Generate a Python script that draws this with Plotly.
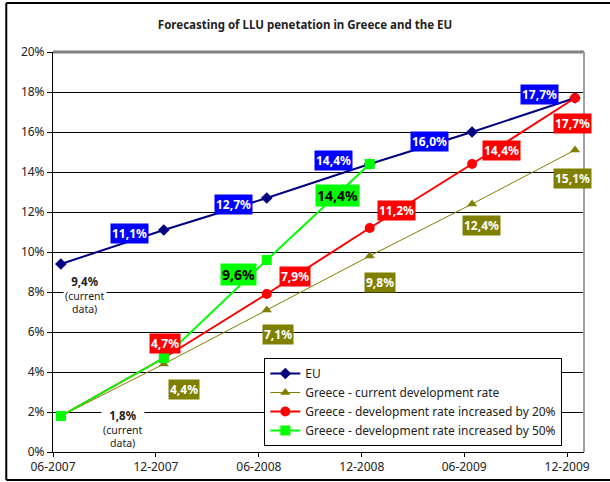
import plotly.graph_objects as go

dates = ["2007-06-15", "2007-12-15", "2008-06-15", "2008-12-15", "2009-06-15", "2009-12-15"]
tick_dates = ["2007-06-01", "2007-12-01", "2008-06-01", "2008-12-01", "2009-06-01", "2009-12-01"]
tick_labels = ["06-2007", "12-2007", "06-2008", "12-2008", "06-2009", "12-2009"]
y_ticks = [0, 2, 4, 6, 8, 10, 12, 14, 16, 18, 20]

eu = [9.4, 11.1, 12.7, 14.4, 16.0, 17.7]
greece_current = [1.8, 4.4, 7.1, 9.8, 12.4, 15.1]
greece_20 = [1.8, 4.7, 7.9, 11.2, 14.4, 17.7]
greece_50 = [1.8, 4.7, 9.6, 14.4]

FONT = "Noto Sans, Tahoma, DejaVu Sans, sans-serif"


def pct(v):
    return "{:.1f}%".format(v).replace(".", ",")


fig = go.Figure()

fig.add_trace(go.Scatter(
    x=dates, y=eu, name="EU", mode="lines+markers",
    line=dict(color="#000080", width=2),
    marker=dict(symbol="diamond", size=9, color="#000080")
))
fig.add_trace(go.Scatter(
    x=dates, y=greece_current, name="Greece - current development rate", mode="lines+markers",
    line=dict(color="#808000", width=1),
    marker=dict(symbol="triangle-up", size=9, color="#808000")
))
fig.add_trace(go.Scatter(
    x=dates, y=greece_20, name="Greece - development rate increased by 20%", mode="lines+markers",
    line=dict(color="#FF0000", width=2),
    marker=dict(symbol="circle", size=10, color="#FF0000")
))
fig.add_trace(go.Scatter(
    x=dates[:len(greece_50)], y=greece_50, name="Greece - development rate increased by 50%",
    mode="lines+markers",
    line=dict(color="#00FF00", width=2),
    marker=dict(symbol="square", size=10, color="#00FF00")
))

# label offsets in pixels (dx, dy) relative to the point, per series
eu_offsets = [None, (-34, 3), (-33, 6), (-36, -4), (-43, 9), (-36, -4)]
cur_offsets = [None, (20, 25), (11, 24), (10, 26), (9, 21), (-3, 28)]
r20_offsets = [None, (1, -15), (28, -18), (27, -18), (29, -14), (-3, 25)]
r50_offsets = [None, None, (-28, 14), (-32, 31)]

label_sets = [
    (eu, eu_offsets, "#0000FF", "white", 12),
    (greece_current, cur_offsets, "#808000", "white", 12),
    (greece_20, r20_offsets, "#FF0000", "white", 12),
    (greece_50, r50_offsets, "#00FF00", "black", 14),
]

for values, offsets, bg, fg, size in label_sets:
    for d, v, off in zip(dates, values, offsets):
        if off is None:
            continue
        fig.add_annotation(
            x=d, y=v, xref="x", yref="y",
            text="<b>" + pct(v) + "</b>",
            showarrow=False, xshift=off[0], yshift=-off[1],
            bgcolor=bg, borderpad=1,
            font=dict(family=FONT, size=size, color=fg)
        )

# current data notes
note = "<b><span style='font-size:11.5px'>{}</span></b><br>(current<br>data)"
fig.add_annotation(
    x=dates[0], y=eu[0], xref="x", yref="y",
    text=note.format(pct(eu[0])),
    showarrow=False, xshift=24, yshift=-31, bgcolor="white",
    font=dict(family=FONT, size=10.5, color="#222222")
)
fig.add_annotation(
    x=dates[0], y=greece_current[0], xref="x", yref="y",
    text=note.format(pct(greece_current[0])),
    showarrow=False, xshift=62, yshift=-13, bgcolor="white",
    font=dict(family=FONT, size=10.5, color="#222222")
)

# outer frame (left, top, bottom edges; right edge lies outside the picture)
frame = dict(xref="paper", yref="paper", type="line", line=dict(color="black", width=2), layer="below")
fx0, fx1, fy0, fy1 = -0.088, 1.1, -0.07, 1.1225

fig.update_layout(
    width=610, height=482,
    margin=dict(l=53, r=26, t=52, b=30),
    paper_bgcolor="white", plot_bgcolor="white",
    font=dict(family=FONT, size=12, color="#222222"),
    title=dict(
        text="<b>Forecasting of LLU penetation in Greece and the EU</b>",
        x=0.5, xanchor="center", y=0.948, yanchor="middle",
        font=dict(family=FONT, size=11.5, color="#222222")
    ),
    showlegend=True,
    legend=dict(
        x=0.398, y=0.125, xanchor="left", yanchor="middle",
        bgcolor="white", bordercolor="black", borderwidth=1,
        font=dict(family=FONT, size=12, color="#222222"),
        tracegroupgap=0, itemwidth=30
    ),
    xaxis=dict(
        type="date", range=["2007-06-01", "2009-12-31"],
        tickvals=tick_dates, ticktext=tick_labels,
        showgrid=False, zeroline=False,
        showline=True, linecolor="black", linewidth=1,
        ticks="outside", ticklen=4, tickcolor="black", automargin=False
    ),
    yaxis=dict(
        range=[0, 20], tickvals=y_ticks, ticktext=[str(t) + "%" for t in y_ticks],
        showgrid=True, gridcolor="black", gridwidth=1,
        zeroline=False, showline=True, linecolor="black", linewidth=1,
        ticks="outside", ticklen=5, tickcolor="black", automargin=False
    ),
    shapes=[
        dict(type="line", xref="paper", yref="paper", x0=0, x1=1, y0=1, y1=1,
             line=dict(color="#808080", width=3)),
        dict(type="line", xref="paper", yref="paper", x0=1, x1=1, y0=0, y1=1,
             line=dict(color="#A0A0A0", width=2)),
        dict(frame, x0=fx0, x1=fx0, y0=fy0, y1=fy1),
        dict(frame, x0=fx0, x1=fx1, y0=fy1, y1=fy1),
        dict(frame, x0=fx0, x1=fx1, y0=fy0, y1=fy0),
    ]
)

fig.write_html("out.html", config={"displayModeBar": False},
               post_script="document.body.style.margin='0'; document.body.style.overflow='hidden';")
